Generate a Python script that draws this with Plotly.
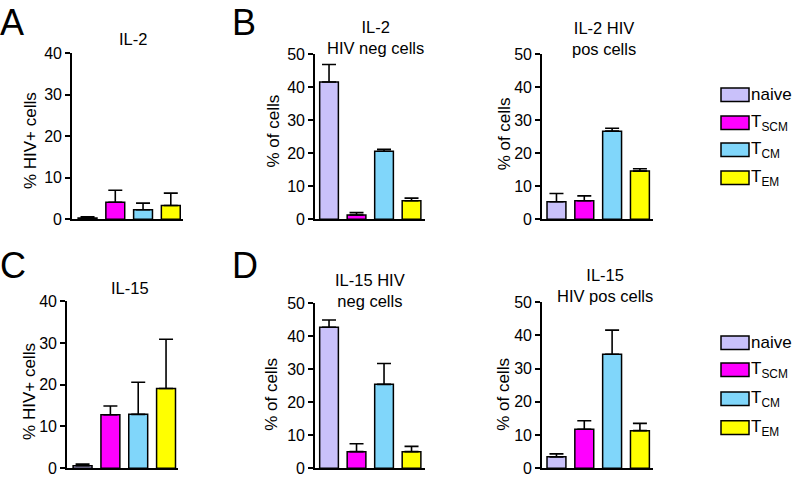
import plotly.graph_objects as go

W, H = 793, 481

categories = ["naive", "TSCM", "TCM", "TEM"]
legend_labels = ["naive", "T<sub>SCM</sub>", "T<sub>CM</sub>", "T<sub>EM</sub>"]
colors = ["#C9C1FA", "#FF00FF", "#80D6FA", "#FFFF00"]

# Panel A: IL-2, % HIV+ cells
a_mean = [0.3, 4.1, 2.3, 3.3]
a_err = [0.3, 2.9, 1.6, 3.0]
# Panel B left: IL-2 HIV neg cells
bl_mean = [41.6, 1.3, 20.6, 5.6]
bl_err = [5.3, 0.7, 0.6, 0.8]
# Panel B right: IL-2 HIV pos cells
br_mean = [5.3, 5.6, 26.7, 14.6]
br_err = [2.5, 1.5, 0.9, 0.7]
# Panel C: IL-15, % HIV+ cells
c_mean = [0.6, 12.8, 12.9, 19.1]
c_err = [0.4, 2.1, 7.7, 11.8]
# Panel D left: IL-15 HIV neg cells
dl_mean = [42.7, 5.0, 25.4, 5.0]
dl_err = [2.2, 2.4, 6.3, 1.6]
# Panel D right: IL-15 HIV pos cells
dr_mean = [3.4, 11.7, 34.3, 11.3]
dr_err = [0.9, 2.6, 7.3, 2.2]

ticks40 = [0, 10, 20, 30, 40]
ticks50 = [0, 10, 20, 30, 40, 50]

FONT = "Liberation Sans, Arial, Helvetica, sans-serif"

def px_x(a, b):
    return [a / W, b / W]

def px_y(top, bottom):
    return [1 - bottom / H, 1 - top / H]

panels = [
    # data, errors, x-domain px, y-domain px, xrange, ymax, ticks
    (a_mean, a_err, (72, 183), (47, 219), [-0.56, 3.44], 40, ticks40),
    (bl_mean, bl_err, (315, 425), (48, 219), [-0.51, 3.49], 50, ticks50),
    (br_mean, br_err, (542, 653), (48, 219), [-0.52, 3.47], 50, ticks50),
    (c_mean, c_err, (67, 178), (304, 477), [-0.56, 3.43], 40, ticks40),
    (dl_mean, dl_err, (315, 425), (306, 477), [-0.51, 3.49], 50, ticks50),
    (dr_mean, dr_err, (542, 653), (305, 477), [-0.52, 3.47], 50, ticks50),
]

fig = go.Figure()
layout = dict(
    width=W, height=H,
    margin=dict(l=0, r=0, t=0, b=0),
    paper_bgcolor="white", plot_bgcolor="white",
    showlegend=False,
    font=dict(family=FONT, color="black", size=16),
)

for i, (mean, err, xd, yd, xr, ymax, ticks) in enumerate(panels):
    n = "" if i == 0 else str(i + 1)
    fig.add_trace(go.Bar(
        x=categories, y=mean,
        xaxis="x" + n, yaxis="y" + n,
        marker=dict(color=colors, line=dict(color="black", width=1.5)),
        width=0.68,
        error_y=dict(type="data", array=err, arrayminus=[0] * len(err),
                     symmetric=False, color="black", thickness=1.6, width=7),
        cliponaxis=False,
    ))
    layout["xaxis" + n] = dict(
        domain=px_x(*xd), anchor="y" + n, range=xr,
        showticklabels=False, ticks="", showgrid=False, zeroline=False,
        showline=True, linecolor="black", linewidth=1.6,
    )
    layout["yaxis" + n] = dict(
        domain=px_y(*yd), anchor="x" + n, range=[0, ymax],
        tickvals=ticks, ticks="outside", ticklen=5, tickwidth=1.6,
        tickcolor="black", showgrid=False, zeroline=False,
        showline=True, linecolor="black", linewidth=1.6,
        tickfont=dict(size=16, family=FONT, color="black"),
    )

fig.update_layout(**layout)

def ann(text, x, y, size=16, angle=0, xanchor="center", yanchor="middle"):
    fig.add_annotation(text=text, x=x / W, y=1 - y / H, xref="paper", yref="paper",
                       showarrow=False, textangle=angle, xanchor=xanchor, yanchor=yanchor,
                       font=dict(size=size, family=FONT, color="black"))

# panel letters
ann("A", -2, 15, size=36, xanchor="left")
ann("B", 230, 15, size=36, xanchor="left")
ann("C", -2, 267, size=36, xanchor="left")
ann("D", 230, 267, size=36, xanchor="left")

# titles
ann("IL-2", 133, 32, size=16.5)
ann("IL-2<br>HIV neg cells", 375, 31, size=16.5)
ann("IL-2 HIV<br>pos cells", 604, 32, size=16.5)
ann("IL-15", 130, 290, size=16.5)
ann("IL-15 HIV<br>neg cells", 370, 293, size=16.5)
ann("IL-15<br>HIV pos cells", 605, 288, size=16.5)

# y-axis titles
ann("% HIV+ cells", 30, 138, size=17, angle=-90)
ann("% of cells", 273, 128, size=17, angle=-90)
ann("% of cells", 504, 131, size=17, angle=-90)
ann("% HIV+ cells", 30, 398, size=17, angle=-90)
ann("% of cells", 272, 401, size=17, angle=-90)
ann("% of cells", 504, 401, size=17, angle=-90)

# legends
for centers in ([90, 119, 147, 176], [347, 375, 405, 435]):
    for lab, col, cy in zip(legend_labels, colors, centers):
        fig.add_shape(type="rect", xref="paper", yref="paper",
                      x0=721 / W, x1=749 / W, y0=1 - (cy + 7) / H, y1=1 - (cy - 7) / H,
                      fillcolor=col, line=dict(color="black", width=1.5))
        ann(lab, 749, cy, size=17, xanchor="left")

fig.write_html("out.html", config={"displayModeBar": False},
               post_script="document.body.style.margin='0';document.body.style.overflow='hidden';")
